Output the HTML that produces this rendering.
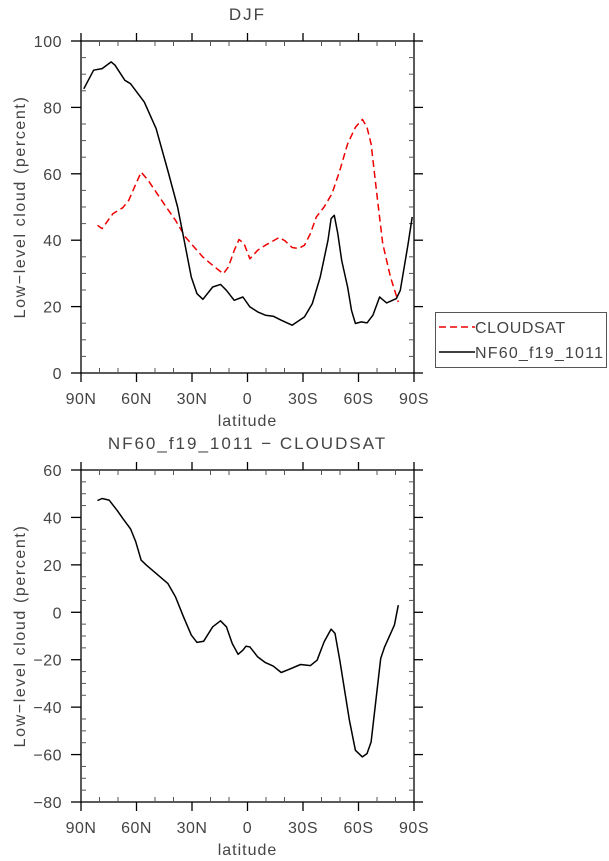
<!DOCTYPE html>
<html><head><meta charset="utf-8"><style>
html,body{margin:0;padding:0;background:#fff;width:609px;height:861px;overflow:hidden}
svg text{font-family:"Liberation Sans",sans-serif;fill:#444}
</style></head><body>
<svg id="s" width="609" height="861" xmlns="http://www.w3.org/2000/svg"></svg>
<script>
const S=document.getElementById('s');let h='';
const X0=81,X1=414;
function lx(l){return X0+(90-l)/180*(X1-X0);}
function panel(Y0,Y1,vmin,vmax,step,title){
  const vy=v=>Y1-(v-vmin)/(vmax-vmin)*(Y1-Y0);
  h+=`<rect x="${X0}" y="${Y0}" width="${X1-X0}" height="${Y1-Y0}" fill="none" stroke="#000" stroke-width="1.3"/>`;
  for(let v=vmin;v<=vmax;v+=step/4){const y=vy(v);const maj=Math.abs((v-vmin)%step)<1e-6;
    if(maj){h+=`<line x1="${X0-10}" x2="${X0}" y1="${y}" y2="${y}" stroke="#000" stroke-width="1.3"/><line x1="${X1}" x2="${X1+9}" y1="${y}" y2="${y}" stroke="#000" stroke-width="1.3"/>`;
      h+=`<text x="62" y="${y+6}" font-size="16" letter-spacing="0.5" text-anchor="end">${v<0?'\u2212'+(-v):v}</text>`;}
    else h+=`<line x1="${X0}" x2="${X0+5}" y1="${y}" y2="${y}" stroke="#555"/><line x1="${X1-5}" x2="${X1}" y1="${y}" y2="${y}" stroke="#555"/>`;}
  const labs={90:'90N',60:'60N',30:'30N',0:'0','-30':'30S','-60':'60S','-90':'90S'};
  for(let l=90;l>=-90;l-=10){const x=lx(l);
    if(l%30==0){h+=`<line x1="${x}" x2="${x}" y1="${Y1}" y2="${Y1+9}" stroke="#000" stroke-width="1.3"/><line x1="${x}" x2="${x}" y1="${Y0-8}" y2="${Y0}" stroke="#000" stroke-width="1.3"/>`;
      h+=`<text x="${x}" y="${Y1+31}" font-size="16" letter-spacing="0.5" text-anchor="middle">${labs[l]}</text>`;}
    else h+=`<line x1="${x}" x2="${x}" y1="${Y1-5}" y2="${Y1}" stroke="#555"/><line x1="${x}" x2="${x}" y1="${Y0}" y2="${Y0+5}" stroke="#555"/>`;}
  h+=`<text x="${(X0+X1)/2}" y="${Y1+53}" font-size="16" letter-spacing="1" text-anchor="middle">latitude</text>`;
  h+=`<text x="${(X0+X1)/2}" y="${Y0-21}" font-size="17" letter-spacing="2" text-anchor="middle">${title}</text>`;
  const cy=(Y0+Y1)/2;
  h+=`<text x="25" y="${cy}" font-size="16" letter-spacing="1.6" text-anchor="middle" transform="rotate(-90 25 ${cy})">Low\u2212level cloud (percent)</text>`;
  return vy;
}
function line(pts,vy,st){h+=`<polyline fill="none" stroke-linejoin="round" ${st} points="${pts.map(p=>lx(p[0]).toFixed(1)+','+vy(p[1]).toFixed(1)).join(' ')}"/>`;}
let vy=panel(41,373,0,100,20,'DJF');
const red=[[81.1,44.5],[78.6,43.5],[72.7,48],[67.4,49.8],[64.2,52],[61.1,56],[57.5,60.5],[53.7,58],[45.2,51],[38.9,46],[33.6,41],[24.1,34.9],[17.7,31.9],[13.1,29.9],[10.4,31.9],[7.2,36.9],[4.6,40.2],[1.9,39],[-1.3,34.4],[-5.5,37],[-9.7,38.5],[-13.9,39.8],[-17.1,40.8],[-20.3,39.8],[-24.1,37.8],[-27.7,37.5],[-30.8,38.5],[-34,42],[-37.2,47],[-41.4,50],[-45.7,54],[-49.9,61],[-54.1,69],[-58.3,74],[-62.1,76.4],[-64.6,74],[-66.8,69],[-69.9,54],[-73.1,39],[-77.3,28.9],[-81.5,21.4]];
const blk=[[88.5,85.6],[83.2,91.2],[78.6,91.7],[73.7,93.7],[71.6,92.7],[66.3,88.2],[63.2,87.1],[55.8,81.6],[49.4,73.6],[43.1,61],[37.8,50],[34.6,41],[30.4,28.9],[27.3,23.9],[24.1,22.2],[18.8,25.9],[14.6,26.7],[11.4,24.9],[7.2,21.9],[2.5,22.9],[-1.3,19.9],[-5.5,18.4],[-9.7,17.4],[-13.9,17.1],[-18.2,15.9],[-24.1,14.4],[-30.8,16.9],[-35,20.9],[-39.3,28.9],[-43.5,40],[-45.2,46.5],[-46.9,47.5],[-48.8,42],[-50.9,33.9],[-54.1,25.9],[-56.2,18.9],[-58.3,14.9],[-61.5,15.4],[-64.6,15.1],[-67.8,17.4],[-71.4,22.9],[-75.2,21.1],[-80.5,22.4],[-82.6,24.9],[-84.7,31.9],[-86.8,38.9],[-89,47]];
line(red,vy,'stroke="#e00" stroke-width="1.5" stroke-dasharray="7,4"');
line(blk,vy,'stroke="#000" stroke-width="1.5"');
h+=`<rect x="435.5" y="312.5" width="171" height="55" fill="#fff" stroke="#555"/>`;
h+=`<line x1="439" x2="475" y1="327" y2="327" stroke="#e00" stroke-width="1.5" stroke-dasharray="7,4"/>`;
h+=`<text x="475" y="333" font-size="16" letter-spacing="0.6">CLOUDSAT</text>`;
h+=`<line x1="439" x2="475" y1="352" y2="352" stroke="#000" stroke-width="1.5"/>`;
h+=`<text x="475" y="358" font-size="16" letter-spacing="1.2">NF60_f19_1011</text>`;
vy=panel(470,802,-80,60,20,'NF60_f19_1011 \u2212 CLOUDSAT');
const d=[[81.1,47.1],[78.6,48],[74.8,47.3],[70.6,43.1],[67.4,39.6],[63.2,35.1],[60.4,29.7],[57.5,22],[54.7,19.9],[49.4,16.4],[43.1,12.2],[38.9,6.5],[34.6,-1.9],[30.4,-9.6],[27.3,-12.7],[23.7,-12.2],[18.8,-6.1],[14.6,-3.6],[11.4,-6.1],[8.2,-13.2],[5.1,-17.7],[2.5,-16],[0.8,-14.3],[-1.3,-14.6],[-5.5,-18.8],[-9.7,-21.2],[-13.9,-22.7],[-18.2,-25.4],[-22.4,-24.1],[-28.7,-22],[-34,-22.5],[-37.6,-20.2],[-41.4,-12.5],[-45.2,-7.1],[-47.3,-8.9],[-49.9,-20.2],[-55.1,-45.5],[-58.3,-58.2],[-62.1,-61],[-64.6,-59.6],[-66.8,-54.7],[-72,-19.5],[-74.1,-14.6],[-79.4,-5.4],[-81.5,3]];
line(d,vy,'stroke="#000" stroke-width="1.5"');
S.innerHTML=h;
</script>
</body></html>
